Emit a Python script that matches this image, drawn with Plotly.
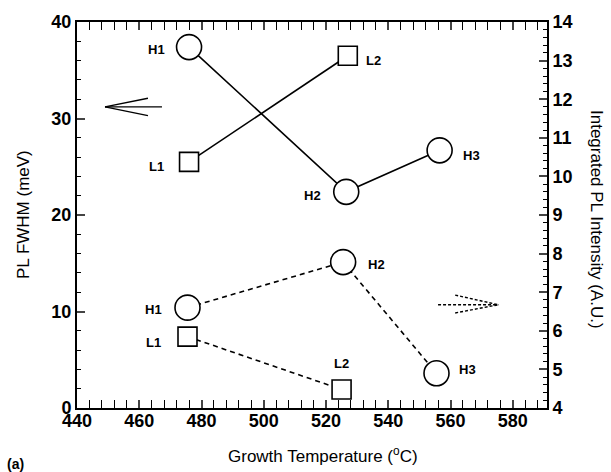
import plotly.graph_objects as go

# Solid: PL FWHM (left axis, meV)
h_temp = [476, 526.5, 556.5]
h_fwhm = [37.4, 22.4, 26.7]
l_temp = [476, 527]
l_fwhm = [25.5, 36.5]

# Dashed: integrated PL intensity (right axis, A.U.)
hi_temp = [475.5, 525.5, 555.5]
hi_int = [6.6, 7.78, 4.9]
li_temp = [475.5, 525]
li_int = [5.85, 4.48]

labels = ["H1", "H2", "H3", "L1", "L2", "H1", "H2", "H3", "L1", "L2"]
label_x = [465.7, 515.6, 566.7, 465.7, 535.3, 464.5, 536.2, 565.5, 464.5, 525]
label_y = [37.1, 22.0, 26.2, 25.0, 36.0, 10.2, 14.9, 4.0, 6.8, 4.6]

x_ticks = [440, 460, 480, 500, 520, 540, 560, 580]
y_ticks = [0, 10, 20, 30, 40]
y2_ticks = [4, 5, 6, 7, 8, 9, 10, 11, 12, 13, 14]

# arrow guides (data coords on left axis)
solid_arrow = dict(tail=(467.3, 31.2), tip=(449, 31.2), barbs=[(462.8, 32.1), (462.8, 30.3)])
dash_arrow = dict(tail=(556, 10.7), tip=(575.4, 10.7), barbs=[(561.5, 11.7), (561.5, 9.85)])

FONT = "Liberation Sans, Arial, Helvetica, sans-serif"
W, H = 611, 472
ML, MR, MT, MB = 77, 64, 22, 64
PW, PH = W - ML - MR, H - MT - MB

def px(x, y):
    return (x - ML) / PW, 1 - (y - MT) / PH

fig = go.Figure()
mk_c = dict(symbol="circle", size=25, color="white", line=dict(color="black", width=1.6))
mk_s = dict(symbol="square", size=19, color="white", line=dict(color="black", width=1.6))

fig.add_trace(go.Scatter(x=h_temp, y=h_fwhm, mode="lines+markers",
                         line=dict(color="black", width=1.6), marker=mk_c))
fig.add_trace(go.Scatter(x=l_temp, y=l_fwhm, mode="lines+markers",
                         line=dict(color="black", width=1.6), marker=mk_s))
fig.add_trace(go.Scatter(x=hi_temp, y=hi_int, mode="lines+markers", yaxis="y2",
                         line=dict(color="black", width=1.6, dash="5px,4px"), marker=mk_c))
fig.add_trace(go.Scatter(x=li_temp, y=li_int, mode="lines+markers", yaxis="y2",
                         line=dict(color="black", width=1.6, dash="5px,4px"), marker=mk_s))

for t, x, y in zip(labels, label_x, label_y):
    fig.add_annotation(x=x, y=y, xref="x", yref="y", text=f"<b>{t}</b>", showarrow=False,
                       font=dict(family=FONT, size=13, color="black"))

shapes = []
def arrow(a, dash):
    (x0, y0), (x1, y1) = a["tail"], a["tip"]
    shapes.append(dict(type="line", xref="x", yref="y", x0=x0, y0=y0, x1=x1, y1=y1,
                       line=dict(color="black", width=1.4, dash=dash)))
    for bx, by in a["barbs"]:
        shapes.append(dict(type="line", xref="x", yref="y", x0=bx, y0=by, x1=x1, y1=y1,
                           line=dict(color="black", width=1.4, dash=dash)))
arrow(solid_arrow, "solid")
arrow(dash_arrow, "3px,2px")
fig.update_layout(shapes=shapes)

def paper_text(text, x, y, size, angle=0):
    ax, ay = px(x, y)
    fig.add_annotation(x=ax, y=ay, xref="paper", yref="paper", text=text, showarrow=False,
                       textangle=angle, xanchor="center", yanchor="middle",
                       font=dict(family=FONT, size=size, color="black"))

paper_text("Integrated PL Intensity (A.U.)", 597, 219, 17, 90)
paper_text("PL FWHM (meV)", 23, 215, 17, -90)
paper_text("Growth Temperature (<sup>o</sup>C)", 323, 455, 17)
paper_text("<b>(a)</b>", 15, 464, 14)

tick_font = dict(family=FONT, size=18, color="black", weight="bold")

fig.update_layout(
    width=W, height=H,
    margin=dict(l=ML, r=MR, t=MT, b=MB, pad=0, autoexpand=False),
    paper_bgcolor="white", plot_bgcolor="white",
    showlegend=False,
    xaxis=dict(range=[440, 591], tickvals=x_ticks, ticks="inside", ticklen=8, tickwidth=1.5,
               showline=True, linecolor="black", linewidth=2, mirror="allticks", automargin=False,
               showgrid=False, zeroline=False, tickfont=tick_font, ticklabelstandoff=-5,
               minor=dict(dtick=4, tick0=440, ticks="inside", ticklen=4, tickwidth=1.2, tickcolor="black")),
    yaxis=dict(range=[0, 40], tickvals=y_ticks, ticks="inside", ticklen=8, tickwidth=1.5,
               showline=True, linecolor="black", linewidth=2, mirror=False, automargin=False,
               showgrid=False, zeroline=False, tickfont=tick_font,
               minor=dict(dtick=2, tick0=0, ticks="inside", ticklen=4, tickwidth=1.2, tickcolor="black")),
    yaxis2=dict(range=[4, 14], tickvals=y2_ticks, overlaying="y", side="right",
                ticks="inside", ticklen=8, tickwidth=1.5, automargin=False,
                showline=True, linecolor="black", linewidth=2,
                showgrid=False, zeroline=False, tickfont=tick_font,
                minor=dict(dtick=0.2, tick0=4, ticks="inside", ticklen=4, tickwidth=1.2, tickcolor="black")),
)

fig.write_html("out.html", config={"displayModeBar": False},
               post_script="document.body.style.margin='0';")
